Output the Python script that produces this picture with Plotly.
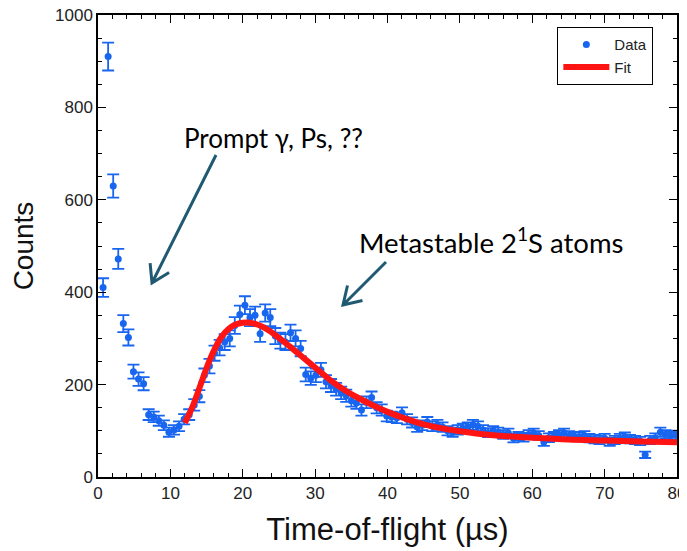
import numpy as np
import plotly.graph_objects as go

# ---- data ----
tof_us = [0.7, 1.4, 2.1, 2.8, 3.5, 4.2, 4.9, 5.6, 6.3, 7.0,
          7.7, 8.4, 9.1, 9.8, 10.5, 11.2, 11.9, 12.6, 13.3, 14.0,
          14.7, 15.4, 16.1, 16.8, 17.5, 18.2, 18.9, 19.6, 20.3, 21.0,
          21.7, 22.4, 23.1, 23.8, 24.5, 25.2, 25.9, 26.6, 27.3, 28.0,
          28.7, 29.4, 30.1, 30.8, 31.5, 32.2, 32.9, 33.6, 34.3, 35.0,
          35.7, 36.4, 37.1, 37.8, 38.5, 39.2, 39.9, 40.6, 41.3, 42.0,
          42.7, 43.4, 44.1, 44.8, 45.5, 46.2, 46.9, 47.6, 48.3, 49.0,
          49.7, 50.4, 51.1, 51.8, 52.5, 53.2, 53.9, 54.6, 55.3, 56.0,
          56.7, 57.4, 58.1, 58.8, 59.5, 60.2, 60.9, 61.6, 62.3, 63.0,
          63.7, 64.4, 65.1, 65.8, 66.5, 67.2, 67.9, 68.6, 69.3, 70.0,
          70.7, 71.4, 72.1, 72.8, 73.5, 74.2, 74.9, 75.6, 76.3, 77.0,
          77.7, 78.4, 79.1, 79.8]
counts = [410, 910, 630, 472, 332, 302, 228, 212, 202, 135,
          130, 122, 112, 97, 102, 110, 125, 135, 156, 175,
          220, 240, 268, 280, 292, 300, 328, 352, 372, 345,
          350, 310, 355, 345, 305, 295, 292, 312, 300, 278,
          222, 214, 220, 232, 206, 198, 190, 182, 176, 165,
          160, 145, 162, 172, 150, 145, 132, 130, 128, 139,
          125, 118, 108, 112, 119, 110, 113, 108, 100, 97,
          102, 105, 108, 113, 110, 102, 96, 100, 97, 92,
          95, 84, 88, 86, 92, 95, 90, 76, 85, 88,
          92, 95, 90, 88, 87, 90, 84, 82, 80, 84,
          76, 80, 84, 87, 82, 80, 78, 48, 80, 85,
          97, 92, 88, 91]
counts_err = list(np.sqrt(np.array(counts, dtype=float)))

fit_t = [12, 13, 14, 15, 16, 17, 18, 19, 20, 21, 22, 23, 24, 25, 26, 27, 28,
         30, 32, 34, 36, 38, 40, 42, 45, 50, 55, 60, 65, 70, 75, 80]
fit_counts = [117, 150, 192, 236, 273, 302, 320, 330, 334, 334, 330, 323, 313,
              301, 289, 276, 263, 237, 211, 189, 171, 155, 141, 129, 114, 99,
              90, 85, 81, 79, 77, 75]

# ---- layout geometry (page has an 8px body margin) ----
OFF = 8
W, H = 679, 543
ML, MR, MT, MB = 90, 10, 7, 74
X_RANGE = [0, 80]
Y_RANGE = [0, 1000]


def px2data(xp, yp):
    xp -= OFF
    yp -= OFF
    x = X_RANGE[0] + (xp - ML) / (W - ML - MR) * (X_RANGE[1] - X_RANGE[0])
    y = Y_RANGE[0] + ((H - MB) - yp) / (H - MT - MB) * (Y_RANGE[1] - Y_RANGE[0])
    return x, y


def arrow_path(tail, tip, wing=20, ang=32):
    tx, ty = tail
    hx, hy = tip
    dx, dy = tx - hx, ty - hy
    n = (dx * dx + dy * dy) ** 0.5
    ux, uy = dx / n, dy / n
    pts = []
    for s in (1, -1):
        a = np.radians(ang * s)
        wx = ux * np.cos(a) - uy * np.sin(a)
        wy = ux * np.sin(a) + uy * np.cos(a)
        pts.append((hx + wing * wx, hy + wing * wy))
    d = lambda p: "%.4f,%.4f" % px2data(*p)
    return ("M " + d(tail) + " L " + d(tip) +
            " M " + d(pts[0]) + " L " + d(tip) + " L " + d(pts[1]))


BLUE = "#1866f0"
RED = "#ff1414"
TEAL = "#1f5a72"

fig = go.Figure()
fig.add_trace(go.Scatter(
    x=tof_us, y=counts, mode="markers", name="Data",
    marker=dict(color=BLUE, size=7),
    error_y=dict(type="data", array=counts_err, color=BLUE,
                 thickness=1.8, width=6),
))
fig.add_trace(go.Scatter(
    x=fit_t, y=fit_counts, mode="lines", name="Fit",
    line=dict(color=RED, width=6, shape="spline"),
))

tickfont = dict(family="Liberation Sans, Arial", size=17, color="#222")
axis_common = dict(
    showline=True, linecolor="black", linewidth=1.5, mirror="ticks",
    ticks="inside", ticklen=8, tickwidth=1.3, tickcolor="black",
    showgrid=False, zeroline=False, tickfont=tickfont, automargin=False,
    ticklabeloverflow="allow",
)
fig.update_xaxes(range=X_RANGE, dtick=10, tick0=0,
                 minor=dict(dtick=2, ticks="inside", ticklen=4,
                            tickwidth=1.2, tickcolor="black", showgrid=False),
                 title=dict(text="Time-of-flight (µs)",
                            font=dict(family="Liberation Sans, Arial", size=31,
                                      color="#111"), standoff=16),
                 **axis_common)
fig.update_yaxes(range=Y_RANGE, dtick=200, tick0=0,
                 minor=dict(dtick=50, ticks="inside", ticklen=4,
                            tickwidth=1.2, tickcolor="black", showgrid=False),
                 title=dict(text="Counts",
                            font=dict(family="Liberation Sans, Arial", size=28,
                                      color="#111"), standoff=13),
                 **axis_common)

fig.add_shape(type="path", xref="x", yref="y",
              path=arrow_path((216, 155), (152, 283)),
              line=dict(color=TEAL, width=3))
fig.add_shape(type="path", xref="x", yref="y",
              path=arrow_path((386, 262), (343, 305)),
              line=dict(color=TEAL, width=3))

x1, y1 = px2data(182, 138)
x2, y2 = px2data(357, 240)
fig.add_annotation(x=x1, y=y1, xref="x", yref="y", text="Prompt γ, Ps, ??",
                   showarrow=False, xanchor="left", yanchor="middle",
                   font=dict(family="Lato, Open Sans, sans-serif", size=26,
                             color="black"))
fig.add_annotation(x=x2, y=y2, xref="x", yref="y",
                   text="Metastable 2<sup>1</sup>S atoms",
                   showarrow=False, xanchor="left", yanchor="middle",
                   font=dict(family="Lato, Open Sans, sans-serif", size=27.5,
                             color="black"))

fig.update_layout(
    width=W, height=H,
    margin=dict(l=ML, r=MR, t=MT, b=MB, autoexpand=False),
    paper_bgcolor="white", plot_bgcolor="white",
    legend=dict(x=0.793, y=0.974, xanchor="left", yanchor="top",
                bordercolor="black", borderwidth=1.2, bgcolor="white",
                font=dict(family="Liberation Sans, Arial", size=15, color="#222"),
                tracegroupgap=0, itemwidth=46),
    showlegend=True,
)

fig.write_html("out.html")
